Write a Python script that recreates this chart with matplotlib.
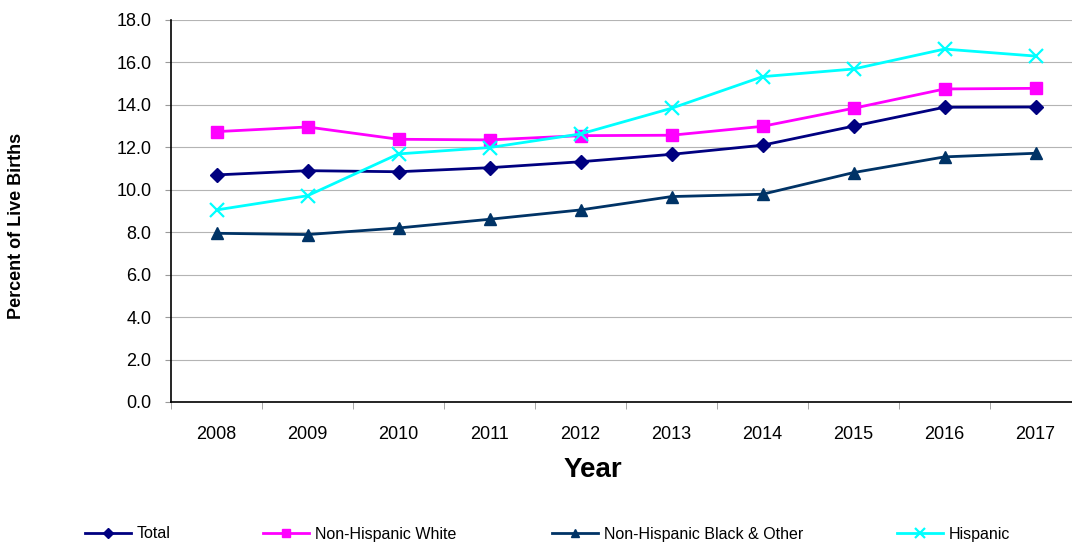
import matplotlib.pyplot as plt
from matplotlib.ticker import MultipleLocator, FixedLocator

# Chart data
years = ['2008', '2009', '2010', '2011', '2012', '2013', '2014', '2015', '2016', '2017']
total = [10.70, 10.90, 10.85, 11.04, 11.32, 11.67, 12.10, 13.00, 13.89, 13.90]
nh_white = [12.74, 12.96, 12.38, 12.35, 12.55, 12.57, 12.99, 13.84, 14.75, 14.78]
nh_black = [7.95, 7.89, 8.20, 8.61, 9.05, 9.68, 9.79, 10.81, 11.55, 11.72]
hispanic = [9.05, 9.72, 11.69, 11.99, 12.63, 13.84, 15.33, 15.69, 16.63, 16.30]

plt.rcParams['font.family'] = ['Liberation Sans', 'DejaVu Sans']

W, H = 1072, 546
fig = plt.figure(figsize=(W / 100, H / 100), dpi=100)
# axes runs a little past the right edge, like the original
ax = fig.add_axes([171 / W, 144 / H, 910 / W, 382 / H])

x = list(range(len(years)))
series = [
    ('Total', total, '#000080', 'D', 7.5),
    ('Non-Hispanic White', nh_white, '#FF00FF', 's', 9),
    ('Non-Hispanic Black & Other', nh_black, '#003366', '^', 9),
    ('Hispanic', hispanic, '#00FFFF', 'x', 10),
]

lines = []
for label, vals, color, marker, ms in series:
    ln, = ax.plot(x, vals, color=color, lw=2, marker=marker, markersize=ms,
                  markeredgewidth=1.6 if marker == 'x' else 1, label=label, clip_on=False)
    lines.append(ln)

ax.set_ylim(0, 18)
ax.set_xlim(-0.5, len(years) - 0.5)
ax.yaxis.set_major_locator(MultipleLocator(2))
ax.yaxis.set_major_formatter(lambda v, p: f'{v:.1f}')
ax.grid(axis='y', color='#B4B4B4', lw=0.8)
ax.set_axisbelow(True)

ax.set_xticks(x)
ax.set_xticklabels(years)
ax.xaxis.set_minor_locator(FixedLocator([i - 0.5 for i in range(len(years) + 1)]))
ax.tick_params(axis='x', which='major', length=0, pad=17, labelsize=13)
ax.tick_params(axis='x', which='minor', length=5, color='#999999', direction='out')
ax.tick_params(axis='y', length=4, color='#999999', pad=10, labelsize=13)

for s in ['top', 'right']:
    ax.spines[s].set_visible(False)
for s in ['left', 'bottom']:
    ax.spines[s].set_color('black')
    ax.spines[s].set_linewidth(1.2)

# axis titles placed where the original has them
fig.text(593 / W, 1 - 470 / H, 'Year', fontsize=20, fontweight='bold',
         ha='center', va='center')
fig.text(17 / W, 1 - 226 / H, 'Percent of Live Births', fontsize=13,
         fontweight='bold', rotation=90, ha='center', va='center')

# one legend per entry, spaced like the original
legend_x = [85, 263, 552, 897]
for ln, lx in zip(lines, legend_x):
    fig.legend([ln], [ln.get_label()], loc='center left',
               bbox_to_anchor=(lx / W, 12 / H), frameon=False,
               fontsize=11.5, handlelength=2.9, handletextpad=0.35,
               borderpad=0, borderaxespad=0, markerscale=0.7)

fig.savefig('out.png', dpi=100)
